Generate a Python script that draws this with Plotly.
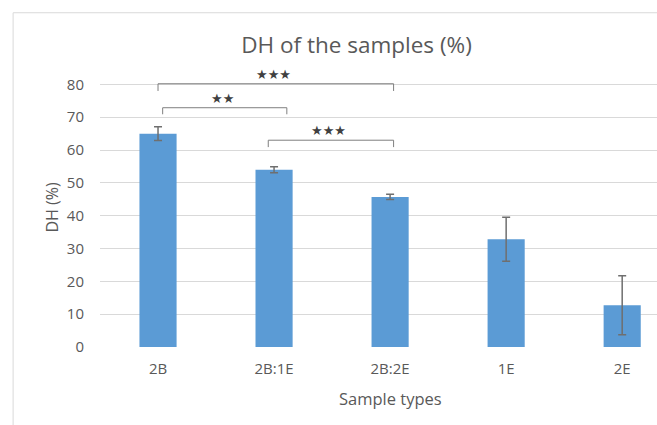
import plotly.graph_objects as go

# ---- data ----
categories = ["2B", "2B:1E", "2B:2E", "1E", "2E"]
dh_values = [65.0, 54.0, 45.7, 32.8, 12.7]
dh_errors = [2.1, 0.9, 0.8, 6.7, 9.0]
y_ticks = [0, 10, 20, 30, 40, 50, 60, 70, 80]

# significance brackets: (left category idx, right category idx, bar height, leg bottom, label)
brackets = [
    (0.0, 2.03, 80.2, 78.0, "★★★"),
    (0.04, 1.11, 72.9, 70.9, "★★"),
    (0.95, 2.03, 63.0, 60.9, "★★★"),
]

FONT = "Open Sans"
GREY = "#595959"

fig = go.Figure()
fig.add_trace(go.Bar(
    x=list(range(len(categories))),
    y=dh_values,
    width=0.32,
    marker=dict(color="#5B9BD5", line=dict(width=0)),
    error_y=dict(type="data", array=dh_errors, visible=True,
                 color="#6f6f6f", thickness=1.5, width=4),
    showlegend=False,
))

shapes = []
annotations = []
for x0, x1, ytop, ybot, lab in brackets:
    shapes.append(dict(type="path", xref="x", yref="y",
                       path=f"M {x0},{ybot} L {x0},{ytop} L {x1},{ytop} L {x1},{ybot}",
                       line=dict(color="#7f7f7f", width=1)))
    annotations.append(dict(x=(x0 + x1) / 2 - 0.02, y=ytop, xref="x", yref="y",
                            text=lab, showarrow=False, yanchor="bottom", yshift=0,
                            font=dict(family="DejaVu Sans", size=13, color="#404040")))

# x-axis title, centred under the full (partly cropped) category band
annotations.append(dict(x=2, y=-0.186, xref="x", yref="paper", text="Sample types",
                        showarrow=False, yanchor="middle", xanchor="center",
                        font=dict(family=FONT, size=16.5, color=GREY)))

# chart border (extends beyond the visible window on right/bottom)
shapes.append(dict(type="rect", xref="paper", yref="paper",
                   x0=-0.156, x1=1.3, y0=-0.6, y1=1.198,
                   line=dict(color="#d9d9d9", width=1), layer="below"))

fig.update_layout(
    width=657, height=425,
    margin=dict(l=100, r=0, t=67.6, b=78.3),
    paper_bgcolor="white", plot_bgcolor="white",
    font=dict(family=FONT, color=GREY),
    title=dict(text="DH of the samples (%)", xref="container", x=0.5426,
               xanchor="center", yref="container", y=0.894, yanchor="middle",
               font=dict(family=FONT, size=22.5, color=GREY)),
    bargap=0.68,
    shapes=shapes,
    annotations=annotations,
)
fig.update_xaxes(
    range=[-0.5, 4.30],
    tickmode="array", tickvals=list(range(len(categories))), ticktext=categories,
    tickfont=dict(size=15, color=GREY, family=FONT),
    showgrid=False, zeroline=False, showline=False,
    ticklabelstandoff=11,
)
fig.update_yaxes(
    range=[0, 85],
    tickmode="array", tickvals=y_ticks,
    tickfont=dict(size=15, color=GREY, family=FONT),
    showgrid=True, gridcolor="#d9d9d9", gridwidth=1,
    zeroline=False, showline=False,
    ticklabelstandoff=15,
    title=dict(text="DH (%)", font=dict(size=16, color=GREY, family=FONT), standoff=4),
)

fig.write_html("out.html")
